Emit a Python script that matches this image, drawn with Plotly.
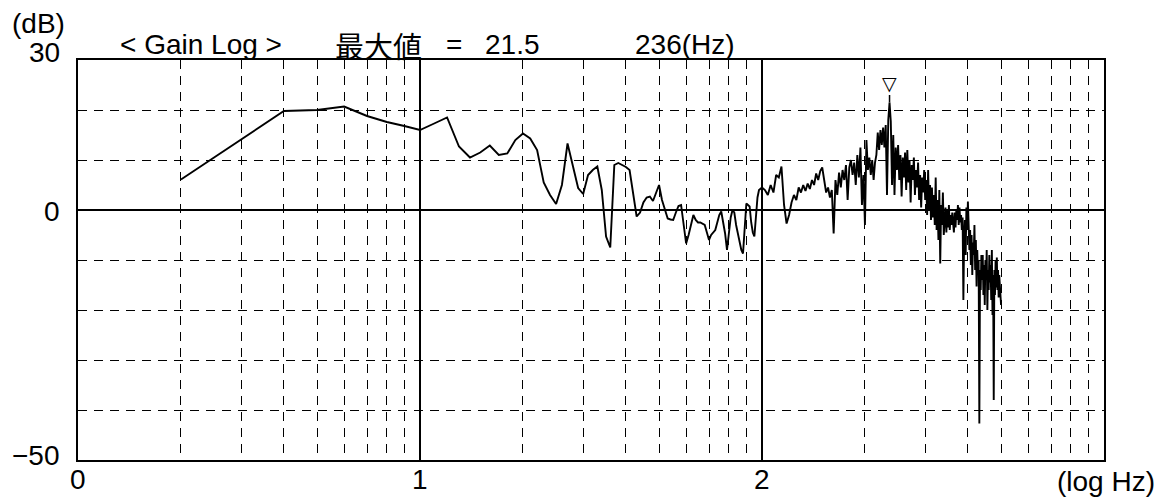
import numpy as np
import plotly.graph_objects as go

# ---------------- data ----------------
# frequency bins (Hz): 1 Hz steps up to 100 Hz, 2 Hz steps above
freq_lo = list(range(2, 101))
gain_lo = [
    6.1, 14.2, 19.8, 20.0, 20.7, 18.8, 17.6, 16.8, 16.0, 17.3,
    18.5, 12.7, 10.5, 11.5, 12.9, 11.0, 11.3, 14.0, 15.3, 14.3,
    12.0, 5.5, 3.0, 1.2, 5.0, 13.3, 9.0, 4.4, 3.2, 7.0,
    8.0, 8.7, 4.0, -5.3, -7.5, 9.0, 9.4, 9.0, 8.6, 8.0,
    3.0, -1.3, -0.5, 1.5, 2.5, 2.7, 1.8, 3.5, 5.0, 2.0,
    0.0, -1.7, -1.9, -2.0, -0.5, 0.8, 1.0, -3.0, -6.7, -5.0,
    -3.0, -1.0, -2.0, -2.5, -2.5, -2.8, -3.0, -4.5, -6.0, -5.0,
    -4.5, -4.0, -2.5, -1.0, -0.3, -2.5, -4.7, -8.0, -5.0, -1.5,
    0.0, -0.5, -3.0, -4.7, -6.5, -8.0, -8.7, -3.0, 1.3, 1.0,
    0.7, -2.5, -4.5, -5.3, -1.0, 2.5, 4.0, 4.3, 4.5,
]
freq_hi = list(range(102, 501, 2))
gain_hi = [
    4.0, 3.0, 5.0, 3.5, 7.0, 6.5, 8.7, 1.0, -2.7, -1.0,
    1.5, 3.0, 2.0, 4.5, 3.5, 5.0, 3.8, 5.3, 4.2, 6.0,
    5.0, 7.3, 6.0, 7.8, 8.5, 6.0, 3.5, 4.5, 2.5, 4.0,
    -4.7, 6.0, 3.0, 7.5, 4.5, 8.0, 6.0, 9.0, 2.0, 8.5,
    10.0, 7.0, 9.5, 5.0, 11.0, 6.5, 12.5, 1.0, 7.0, -3.0,
    14.0, 8.0, 10.5, 7.0, 10.0, 6.0, 9.5, 11.0, 15.5, 12.0,
    16.0, 13.0, 16.5, 12.5, 17.0, 3.0, 18.0, 21.5, 17.7, 5.0,
    15.0, 3.0, 12.5, 8.0, 13.0, 6.0, 11.0, 2.7, 10.5, 6.5,
    11.5, 4.0, 12.0, 5.5, 10.0, 1.5, 9.0, 6.0, 10.5, 3.0,
    8.0, 4.5, 9.5, 2.0, 7.0, 0.5, 6.5, 3.5, 8.0, 2.0,
    6.0, -1.0, 8.0, 0.0, 5.0, -2.0, 4.5, -1.5, 3.0, -3.0,
    6.5, -4.0, 2.0, -6.0, 4.0, -10.7, 1.0, -3.0, 3.5, -5.0,
    -2.0, 0.5, -4.5, 0.0, -3.5, 1.0, -4.0, -1.0, -3.0, -0.5,
    -2.5, -4.5, -0.5, -3.5, 0.0, -2.0, 1.0, -3.0, 0.5, -2.5,
    -1.0, -4.0, -1.5, -18.0, -5.0, -2.0, -9.0, 0.5, -4.0, 1.7,
    -3.0, -8.0, -4.0, -11.0, -5.0, -13.0, -6.5, -9.0, -3.0, -12.0,
    -6.0, -15.3, -8.0, -13.0, -10.0, -42.7, -12.0, -16.0, -9.0, -14.0,
    -9.0, -17.0, -11.0, -19.0, -10.0, -14.0, -8.0, -20.0, -12.0, -16.0,
    -9.0, -14.5, -11.0, -18.0, -8.0, -21.0, -13.0, -38.0, -12.0, -17.0,
    -10.0, -15.5, -9.5, -16.0, -12.0, -17.5, -13.0, -15.0, -18.0, -19.0,
]

x_tick_vals = [1, 10, 100]
x_tick_text = ["0", "1", "2"]
x_minor_vals = [m * d for d in (1, 10, 100) for m in range(2, 10)]
y_tick_vals = [30, 0, -50]
y_tick_text = ["30", "0", "\u221250"]

freq = freq_lo + freq_hi
gain = gain_lo + gain_hi
peak_i = int(np.argmax(gain))
peak_f = freq[peak_i]
peak_g = gain[peak_i]

# ---------------- figure ----------------
# page body has an 8px margin, so the figure is 8px smaller than the window
FONT = "Liberation Sans, Arial, sans-serif"
CJK = "Noto Sans CJK JP"
FS = 28
DASH = "9px,7px"

fig = go.Figure()
fig.add_trace(go.Scatter(x=freq, y=gain, mode="lines",
                         line=dict(color="black", width=1.9),
                         hoverinfo="x+y"))

fig.update_layout(
    width=1157, height=489,
    margin=dict(l=70, r=61, t=52, b=37, autoexpand=False),
    paper_bgcolor="white", plot_bgcolor="white",
    showlegend=False,
    font=dict(family=FONT, size=FS, color="black"),
    xaxis=dict(
        type="log", range=[0, 3], automargin=False,
        tickmode="array", tickvals=x_tick_vals, ticktext=x_tick_text,
        showticklabels=False,
        showgrid=True, gridcolor="black", gridwidth=1.6,
        showline=True, linecolor="black", linewidth=2, mirror=True,
        ticks="",
        minor=dict(tickmode="array", tickvals=x_minor_vals, showgrid=True,
                   gridcolor="black", gridwidth=1.4, griddash=DASH, ticks=""),
    ),
    yaxis=dict(
        range=[-50, 30], automargin=False,
        tickmode="array", tickvals=y_tick_vals, ticktext=y_tick_text,
        showticklabels=False,
        showgrid=True, gridcolor="black", gridwidth=1.6,
        zeroline=True, zerolinecolor="black", zerolinewidth=1.6,
        showline=True, linecolor="black", linewidth=2, mirror=True,
        ticks="",
        minor=dict(tick0=0, dtick=10, showgrid=True,
                   gridcolor="black", gridwidth=1.4, griddash=DASH, ticks=""),
    ),
)

# page-pixel -> paper coordinates (plot area spans page x 78..1104, y 60..460)
def px2paper(px, py):
    return (px - 78) / 1026.0, (460 - py) / 400.0

ann = []
x, y = px2paper(38, 24)
ann.append(dict(text="(dB)", x=x, y=y, xanchor="center", yanchor="middle"))
x, y = px2paper(1157, 481)
ann.append(dict(text="(log Hz)", x=x, y=y, xanchor="right", yanchor="middle"))
x, y = px2paper(118, 45)
ann.append(dict(text="&lt; Gain Log &gt;", x=x, y=y, xanchor="left", yanchor="middle"))
x, y = px2paper(333, 45)
ann.append(dict(text="最大値", x=x, y=y, xanchor="left", yanchor="middle",
                font=dict(family=CJK, size=29)))
x, y = px2paper(444, 45)
ann.append(dict(text="=", x=x, y=y, xanchor="left", yanchor="middle"))
x, y = px2paper(483, 45)
ann.append(dict(text=f"{peak_g:.1f}", x=x, y=y, xanchor="left", yanchor="middle"))
x, y = px2paper(633, 45)
ann.append(dict(text=f"{peak_f}(Hz)", x=x, y=y, xanchor="left", yanchor="middle"))

for a in ann:
    a.update(xref="paper", yref="paper", showarrow=False)
    fig.add_annotation(**a)

# x tick labels (log Hz) under the plot
for v, t in zip(x_tick_vals, x_tick_text):
    fig.add_annotation(x=np.log10(v), y=(460 - 479) / 400.0, xref="x", yref="paper",
                       text=t, showarrow=False, xanchor="center", yanchor="middle")

# y tick labels left of the plot
y_label_shift = {30: 8, 0: -1, -50: 5}
for v, t in zip(y_tick_vals, y_tick_text):
    fig.add_annotation(x=(62 - 78) / 1026.0, y=v, xref="paper", yref="y",
                       text=t, showarrow=False, xanchor="right", yanchor="middle",
                       yshift=y_label_shift[v])

fig.add_annotation(x=np.log10(peak_f), y=peak_g, xref="x", yref="y",
                   text="▽", font=dict(family="DejaVu Sans", size=19),
                   showarrow=True, arrowhead=0, arrowwidth=1.5, arrowcolor="black",
                   ax=0, ay=-20, standoff=0)

fig.write_html("out.html")
